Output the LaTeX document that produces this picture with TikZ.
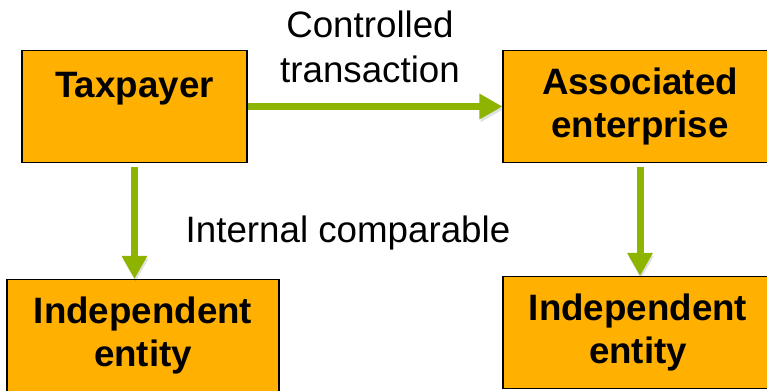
\documentclass[tikz,border=0pt]{standalone}
\usepackage{fontspec}
\setmainfont{Liberation Sans}
\usetikzlibrary{arrows.meta,positioning}

\definecolor{boxorange}{RGB}{255,176,0}
\definecolor{flowgreen}{RGB}{140,180,0}

\tikzset{
  entity/.style={draw=black, line width=0.6pt, fill=boxorange, align=center,
    inner sep=0pt, minimum height=2.24cm,
    font=\fontsize{20.9}{24.5}\selectfont\bfseries},
  flow/.style={draw=flowgreen, line width=0.14cm,
    -{Triangle[length=0.46cm,width=0.48cm]},
    preaction={draw=black, opacity=0.12, transform canvas={shift={(0.6pt,-1.6pt)}}}},
  caption/.style={align=center, inner sep=0pt,
    font=\fontsize{20.9}{25.6}\selectfont}
}

\begin{document}
\begin{tikzpicture}
		
		\useasboundingbox (0,0) rectangle (15.34,7.8);
		\clip (0,0) rectangle (15.34,7.8);
		
		% Boxes
		\node[entity, minimum width=4.5cm] (tax) at (2.69,5.67) {Taxpayer\\ \mbox{}};
		\node[entity, minimum width=5.48cm] (assoc) at (12.8,5.67) {Associated\\enterprise};
		\node[entity, minimum width=5.44cm] (indL) at (2.86,1.09) {Independent\\entity};
		\node[entity, minimum width=5.4cm] (indR) at (12.76,1.15) {Independent\\entity};
		
		% Labels
		\node[caption] (ctrl) at (7.4,6.87) {Controlled\\transaction};
		\node[caption, anchor=base] (intc) at (6.96,2.94) {Internal comparable};
		
		% Arrows
		\draw[flow] (tax) -- (assoc);
		\draw[flow] ([yshift=-2pt]tax.south) -- (tax.south |- indL.north);
		\draw[flow] ([yshift=-2pt]assoc.south) -- (assoc.south |- indR.north);
		
	\end{tikzpicture}
\end{document}
